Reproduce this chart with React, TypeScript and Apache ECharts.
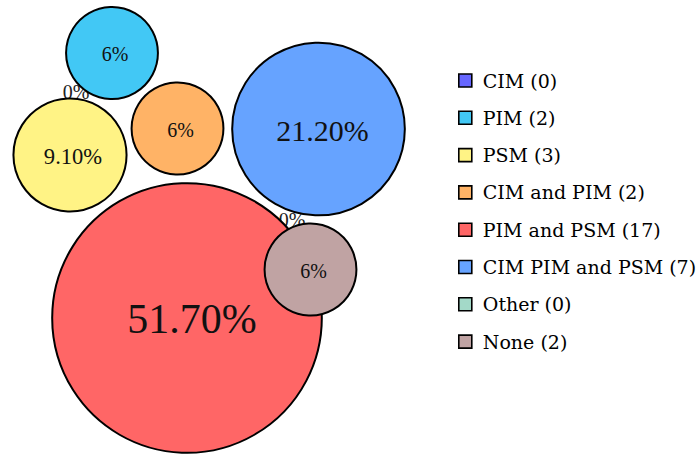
import React, { useEffect, useRef } from "react";
import * as echarts from "echarts";

// ---- data ----
const categories = [
  "CIM",
  "PIM",
  "PSM",
  "CIM and PIM",
  "PIM and PSM",
  "CIM PIM and PSM",
  "Other",
  "None",
];
const counts = [0, 2, 3, 2, 17, 7, 0, 2];
const percents = [0, 6, 9.1, 6, 51.7, 21.2, 0, 6];

// ---- layout / style (not data) ----
const bubbleCenters: [number, number][] = [
  [76, 92],
  [112, 53],
  [70, 155],
  [177.5, 128.5],
  [187, 318],
  [318.5, 129],
  [292, 220],
  [310.5, 269.5],
];
const colors = [
  "#6666ff",
  "#42c8f5",
  "#fff385",
  "#ffb366",
  "#ff6666",
  "#66a3ff",
  "#a3d9c8",
  "#c0a3a3",
];

const SIZE_K = 37.5;
const fmtPct = (p: number) => (Number.isInteger(p) ? `${p}%` : `${p.toFixed(2)}%`);
const labelSize = (p: number) => (p === 0 ? 20 : 8.6 + 4.64 * Math.sqrt(p));

export default function App() {
  const ref = useRef<HTMLDivElement>(null);

  useEffect(() => {
    document.body.style.margin = "0";
    if (!ref.current) return;
    const chart = echarts.init(ref.current, undefined, { renderer: "svg" });

    const legendNames = categories.map((c, i) => `${c} (${counts[i]})`);

    const series = categories.map((c, i) => {
      const p = percents[i];
      const zero = p === 0;
      const fs = labelSize(p);
      return {
        type: "scatter",
        name: legendNames[i],
        z: zero ? 1 : i === 7 ? 3 : 2,
        silent: true,
        symbol: "circle",
        symbolSize: (val: number[]) => (val[2] === 0 ? 4 : SIZE_K * Math.sqrt(val[2])),
        data: [[bubbleCenters[i][0], bubbleCenters[i][1], p]],
        itemStyle: {
          color: zero ? "rgba(0,0,0,0)" : colors[i],
          opacity: 1,
          borderColor: zero ? "rgba(0,0,0,0)" : "#000",
          borderWidth: zero ? 0 : 2,
        },
        label: {
          show: true,
          position: "inside",
          formatter: () => fmtPct(p),
          fontFamily: "Liberation Serif",
          fontSize: fs,
          offset: zero ? [0, 0] : [Math.round(fs * 0.13), 1],
          color: zero ? "#222" : "#111",
        },
        emphasis: { disabled: true },
      };
    });

    chart.setOption({
      animation: false,
      backgroundColor: "#ffffff",
      grid: { left: 0, right: 0, top: 0, bottom: 0 },
      xAxis: { type: "value", min: 0, max: 700, show: false },
      yAxis: { type: "value", min: 0, max: 455, inverse: true, show: false },
      tooltip: { show: false },
      legend: {
        orient: "vertical",
        left: 453,
        top: 66,
        icon: "rect",
        itemWidth: 13,
        itemHeight: 13,
        itemGap: 18.3,
        selectedMode: false,
        data: legendNames.map((n, i) => ({
          name: n,
          itemStyle: { color: colors[i], opacity: 1, borderColor: "#000", borderWidth: 1.6 },
        })),
        textStyle: {
          fontFamily: "DejaVu Serif",
          fontSize: 19,
          color: "#000",
          padding: [0, 0, 0, 6],
        },
      },
      series,
    });

    return () => {
      chart.dispose();
    };
  }, []);

  return <div ref={ref} style={{ width: 700, height: 455 }} />;
}
